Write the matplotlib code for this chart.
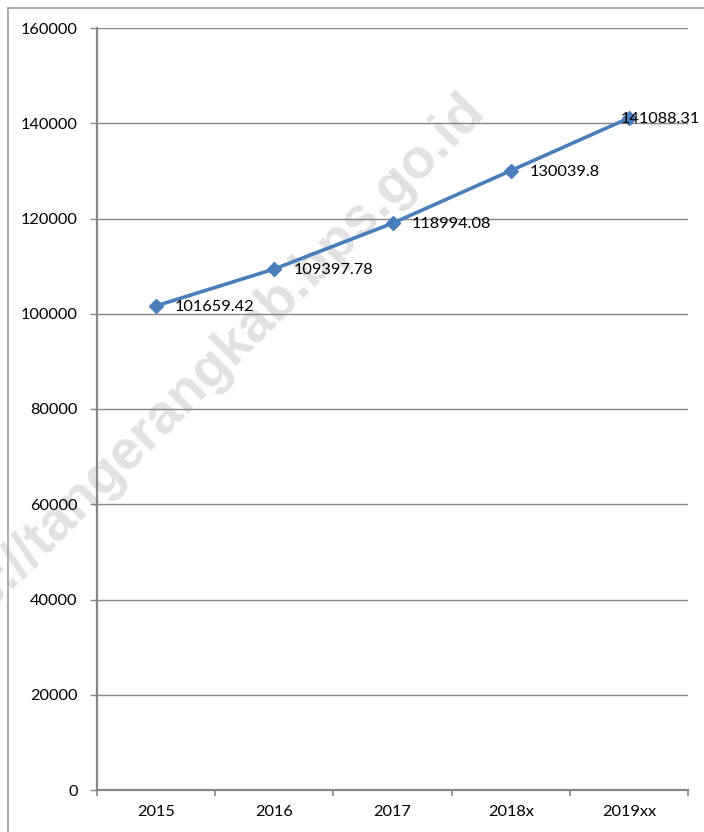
import matplotlib.pyplot as plt
from matplotlib.lines import Line2D

years = ['2015', '2016', '2017', '2018x', '2019xx']
values = [101659.42, 109397.78, 118994.08, 130039.8, 141088.31]
labels = ['101659.42', '109397.78', '118994.08', '130039.8', '141088.31']
yticks = [0, 20000, 40000, 60000, 80000, 100000, 120000, 140000, 160000]

plt.rcParams['font.family'] = ['Lato', 'DejaVu Sans']
grey = '#868686'
fs = 11.8

fig = plt.figure(figsize=(7.04, 8.32), dpi=100)
ax = fig.add_axes([97/704, 1 - 790/832, 591/704, 762/832])

# watermark
fig.text(486/704, 1 - 112/832, 'https://tangerangkab.bps.go.id', rotation=45,
         rotation_mode='anchor', ha='right', va='baseline', fontsize=40,
         fontweight='bold', color='#e2e2e2', family='Liberation Sans', zorder=-1)

x = list(range(len(years)))
ax.plot(x, values, color='#4a7ebb', lw=2.6, marker='D', ms=7.5,
        markerfacecolor='#4a7ebb', markeredgecolor='#4a7ebb', zorder=3,
        clip_on=False)
for i, (xi, v, t) in enumerate(zip(x, values, labels)):
    dx = 19 if i < len(x) - 1 else -8
    ax.annotate(t, (xi, v), xytext=(dx, -1), textcoords='offset pixels',
                ha='left', va='center', fontsize=fs, color='black',
                annotation_clip=False, zorder=4)

ax.set_xlim(-0.5, len(years) - 0.5)
ax.set_ylim(0, 160000)
ax.set_yticks(yticks)
ax.set_yticklabels([str(v) for v in yticks], fontsize=fs)
ax.set_xticks(x)
ax.set_xticklabels(years, fontsize=fs)
ax.set_xticks([i - 0.5 for i in range(len(years) + 1)], minor=True)
ax.tick_params(axis='x', which='major', length=0, pad=11)
ax.tick_params(axis='x', which='minor', length=4, color=grey, width=1.2, direction='out')
ax.tick_params(axis='y', length=5, color=grey, width=1, pad=9)
ax.yaxis.grid(True, color=grey, lw=1)
ax.set_axisbelow(True)
ax.patch.set_alpha(0)

for s in ['top', 'right']:
    ax.spines[s].set_visible(False)
ax.spines['left'].set_color(grey)
ax.spines['left'].set_linewidth(1.6)
ax.spines['bottom'].set_color(grey)
ax.spines['bottom'].set_linewidth(1.6)

# outer chart border (left and top visible)
fig.add_artist(Line2D([8/704, 8/704], [0, 1 - 8/832], color='#a0a0a0', lw=1.2))
fig.add_artist(Line2D([8/704, 1], [1 - 8/832, 1 - 8/832], color='#a0a0a0', lw=1.2))

fig.savefig('out.png', dpi=100)
